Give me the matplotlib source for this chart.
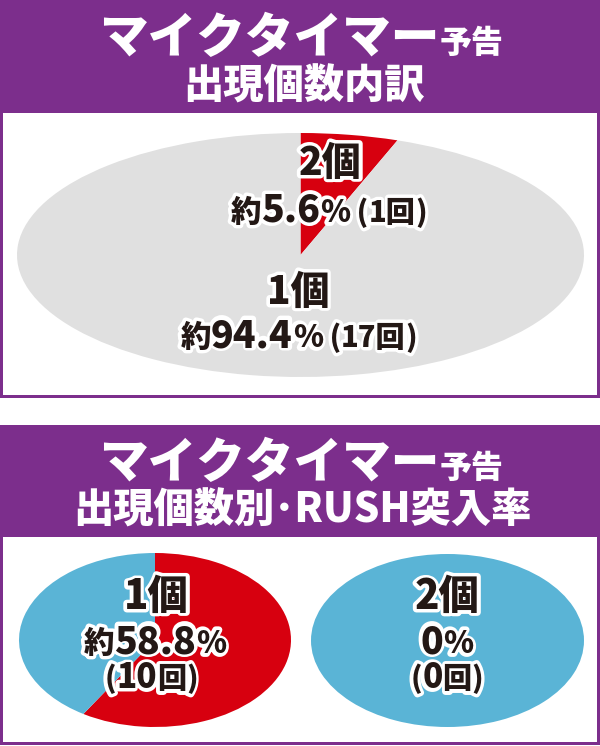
import matplotlib
matplotlib.use("Agg")
import matplotlib.pyplot as plt
import matplotlib.patheffects as pe
from matplotlib.patches import Rectangle

plt.rcParams['font.family'] = ['Noto Sans CJK JP', 'DejaVu Sans']

PURPLE = '#7c2e8c'
RED = '#d7000f'
GRAY = '#e0e0e0'
BLUE = '#5ab4d6'
INK = '#231815'

# 出現個数内訳 (2個, 1個)
appear_labels = ['2個', '1個']
appear_counts = [1, 17]
appear_pct = ['5.6', '94.4']

# 出現個数別 RUSH突入率 (1個, 2個)
rush_labels = ['1個', '2個']
rush_hits = [10, 0]
rush_miss = [7, 1]
rush_pct = ['58.8', '0']

W, H = 600, 746
fig = plt.figure(figsize=(6, 7.46), dpi=100)
bg = fig.add_axes([0, 0, 1, 1])
bg.set_xlim(0, W)
bg.set_ylim(H, 0)
bg.axis('off')

# panels
bg.add_patch(Rectangle((0, 0), 600, 398, color=PURPLE, lw=0))
bg.add_patch(Rectangle((3, 113), 594, 282, color='white', lw=0))
bg.add_patch(Rectangle((0, 425), 600, 320, color=PURPLE, lw=0))
bg.add_patch(Rectangle((3, 537), 594, 205, color='white', lw=0))


def px_axes(x0, y0, x1, y1):
    return fig.add_axes([x0 / W, 1 - y1 / H, (x1 - x0) / W, (y1 - y0) / H])


def ellipse_pie(box, vals, cols):
    ax = px_axes(*box)
    ax.pie(vals, colors=cols, startangle=90, counterclock=False,
           wedgeprops=dict(linewidth=0))
    ax.set_aspect('auto')
    ax.set_xlim(-1, 1)
    ax.set_ylim(-1, 1)
    ax.axis('off')
    return ax


ellipse_pie((17, 133, 584, 377), appear_counts, [RED, GRAY])
ellipse_pie((19, 553, 291, 727), [rush_hits[0], rush_miss[0]], [RED, BLUE])
ellipse_pie((311, 554, 584, 727), [rush_hits[1], rush_miss[1]], [RED, BLUE])

# overlay for all text, on top of the pies
fg = fig.add_axes([0, 0, 1, 1])
fg.set_xlim(0, W)
fg.set_ylim(H, 0)
fg.axis('off')
fg.patch.set_alpha(0)

rend = fig.canvas.get_renderer()


def draw_line(x, y, pieces, color=INK, outline=True):
    texts, widths = [], []
    for s, size in pieces:
        t = fg.text(0, y, s, fontsize=size, fontweight='black', color=color,
                    va='baseline', ha='left', zorder=6)
        widths.append(t.get_window_extent(renderer=rend).width)
        texts.append(t)
    cur = x - sum(widths) / 2
    for t, w in zip(texts, widths):
        t.set_x(cur)
        if outline:
            fg.text(cur, y, t.get_text(), fontsize=t.get_fontsize(),
                    fontweight='black', color='white', va='baseline',
                    ha='left', zorder=5,
                    path_effects=[pe.withStroke(linewidth=5, foreground='white')])
        cur += w


def pct_line(pct, n=None, approx=True):
    parts = []
    if approx:
        parts.append(('約', 22))
    parts += [(pct, 27), ('%', 22)]
    if n is not None:
        parts += [(' (', 21), ('%d回' % n, 21), (')', 21)]
    return parts


def count_line(n):
    return [('(', 21), ('%d' % n, 24), ('回', 21), (')', 21)]


# titles
draw_line(301, 53, [('マイクタイマー', 35), ('予告', 23)], color='white', outline=False)
draw_line(304, 99, [('出現個数内訳', 29)], color='white', outline=False)
draw_line(301, 478, [('マイクタイマー', 35), ('予告', 23)], color='white', outline=False)
draw_line(302, 523, [('出現個数別･RUSH突入率', 29)], color='white', outline=False)

# top pie labels
draw_line(330, 175, [(appear_labels[0], 28)])
draw_line(329, 222, pct_line(appear_pct[0], appear_counts[0]))
draw_line(298, 304, [(appear_labels[1], 28)])
draw_line(299, 347, pct_line(appear_pct[1], appear_counts[1]))

# bottom pie labels
draw_line(156, 609, [(rush_labels[0], 29)])
draw_line(155, 653, pct_line(rush_pct[0]))
draw_line(151, 688, count_line(rush_hits[0]))
draw_line(447, 609, [(rush_labels[1], 29)])
draw_line(447, 653, pct_line(rush_pct[1], approx=False))
draw_line(447, 688, count_line(rush_hits[1]))

fig.savefig('out.png', dpi=100)
